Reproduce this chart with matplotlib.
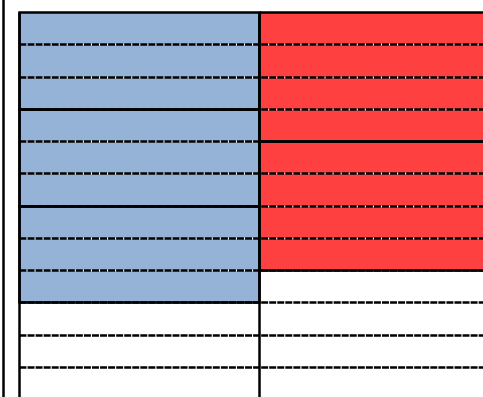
import matplotlib
matplotlib.use("Agg")
import matplotlib.pyplot as plt

plt.rcParams['lines.scale_dashes'] = False

# stacked segments of each column (values grow downward from the top)
categories = ["left", "right"]
left_segments = [3, 3, 3]
right_segments = [4, 4]
colors = ["#95B3D7", "#FF4040"]
grid_levels = list(range(1, 12))

W, H = 483, 397
fig = plt.figure(figsize=(W / 100, H / 100), dpi=100)

# pixel layout -> data range
px_unit_x = 239.5
px_unit_y = 32.27
x0_px, y0_px = 19, 12
spine_px = 3
ax = fig.add_axes([spine_px / W, 0, 1 - spine_px / W, 1])
xmax = (W - x0_px) / px_unit_x
ymax = (H - y0_px) / px_unit_y
ax.set_xlim((spine_px - x0_px) / px_unit_x, xmax)
ax.set_ylim(ymax, -y0_px / px_unit_y)

for s in ["top", "right", "bottom"]:
    ax.spines[s].set_visible(False)
ax.spines["left"].set_linewidth(1.8)
ax.spines["left"].set_color("black")
ax.set_xticks([])
ax.set_yticks([])

lw = 1.8
for i, segs in enumerate([left_segments, right_segments]):
    bottom = 0
    for v in segs:
        ax.bar(i, v, bottom=bottom, width=1, align="edge", color=colors[i],
               linewidth=0, zorder=1)
        ax.bar(i, v, bottom=bottom, width=1, align="edge", fill=False,
               edgecolor="black", linewidth=lw, zorder=4)
        bottom += v

ax.hlines(grid_levels, 0, xmax + 1, color="white", lw=1.0, zorder=2)
ax.hlines(grid_levels, 0, xmax + 1, color="black", lw=lw,
          linestyles=[(0, (5.0, 0.8))], zorder=3)

ax.vlines(range(len(categories)), 0, ymax + 1, color="black", lw=lw, zorder=5)

plt.savefig("out.png", dpi=100)
